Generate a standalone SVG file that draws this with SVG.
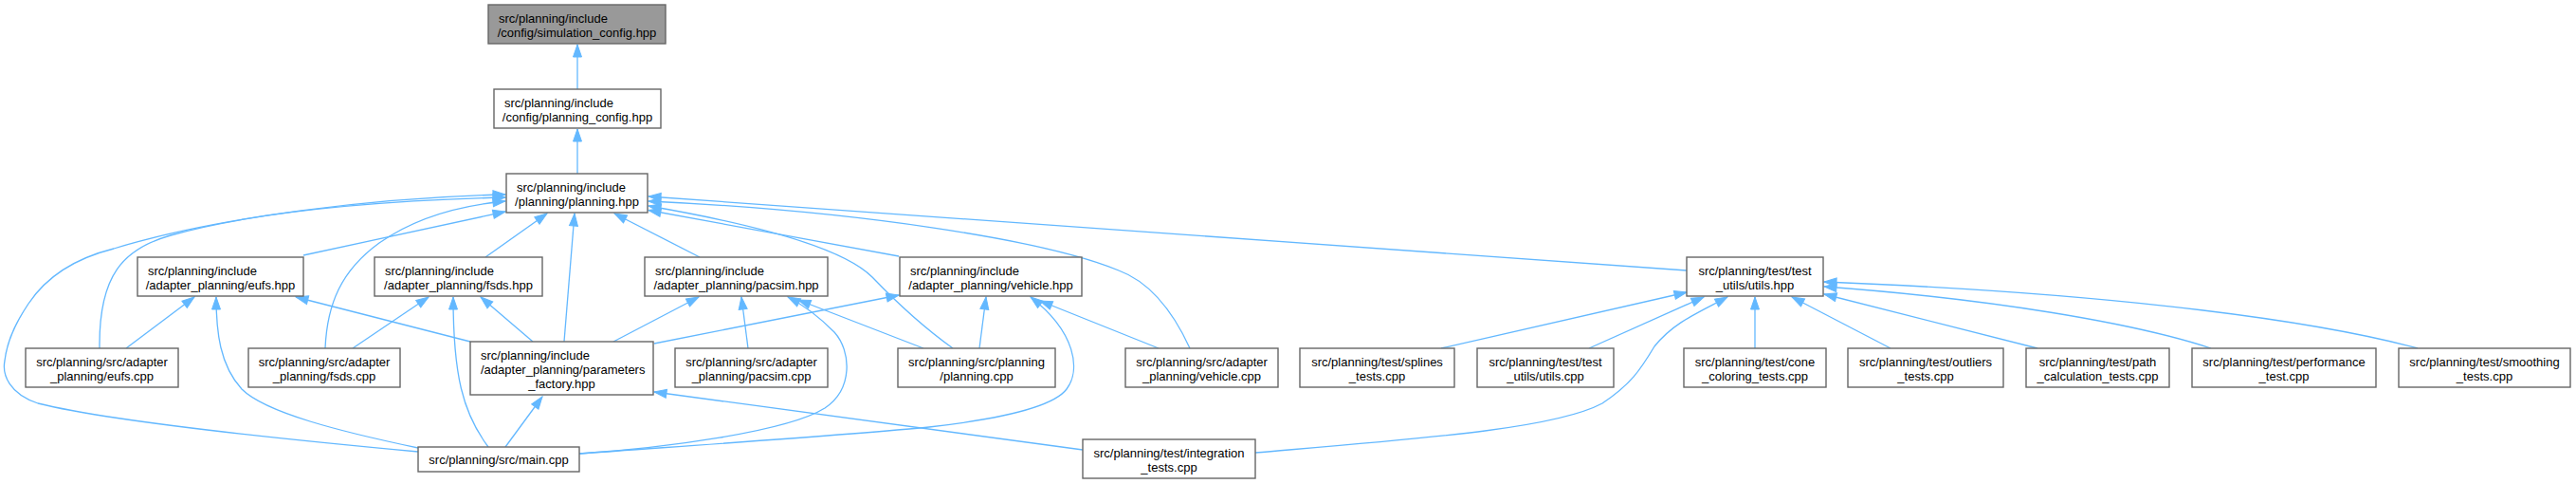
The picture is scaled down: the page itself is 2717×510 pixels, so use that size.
<svg xmlns="http://www.w3.org/2000/svg" width="2717" height="510" viewBox="0 0 2717 510">
<style>
.box{fill:#ffffff;stroke:#666666;stroke-width:1.4}
.root{fill:#999999;stroke:#666666;stroke-width:1.4}
.t{font-family:"Liberation Sans",Arial,sans-serif;font-size:13px;fill:#000000}
.m{text-anchor:middle}
.e{fill:none;stroke:#63b8ff;stroke-width:1.3;marker-end:url(#arr)}
</style>
<defs>
<marker id="arr" markerUnits="userSpaceOnUse" markerWidth="15" markerHeight="11" viewBox="0 0 15 11" refX="14" refY="5.5" orient="auto">
<path d="M1,1 L14,5.5 L1,10 z" fill="#63b8ff" stroke="#63b8ff" stroke-width="1"/>
</marker>
</defs>
<rect width="2717" height="510" fill="#ffffff"/>
<g id="connectors">
<path class="e" d="M609,94 L609,47"/>
<path class="e" d="M609,183 L609,136"/>
<path class="e" d="M320,269 L533,223"/>
<path class="e" d="M512,271 L577,225"/>
<path class="e" d="M738,271 L648,225"/>
<path class="e" d="M948,270 L684,221.5"/>
<path class="e" d="M1779,285 L684,207"/>
<path class="e" d="M105,367 C104,290 130,262 180,248 C280,220 420,211 533,208"/>
<path class="e" d="M343,367 C345,320 360,285 400,256 C440,228 490,216 533,212"/>
<path class="e" d="M595,360 L606,225"/>
<path class="e" d="M441,476 C300,463 120,445 40,425 C10,415 2,395 5,380 C8,355 20,335 30,320 C50,290 80,272 120,262 C230,228 400,208 533,205"/>
<path class="e" d="M1005,367 C970,342 945,318 920,292 C890,262 800,237 684,217"/>
<path class="e" d="M1255,367 C1238,330 1215,298 1180,285 C1100,252 900,222 684,212"/>
<path class="e" d="M133,367 L205,313"/>
<path class="e" d="M441,472 C360,455 280,435 255,410 C232,385 228,350 228,313"/>
<path class="e" d="M496,360 L312,313"/>
<path class="e" d="M372,367 L452,313"/>
<path class="e" d="M515,471 C488,435 478,395 478,313"/>
<path class="e" d="M562,360 L507,313"/>
<path class="e" d="M647,360 L737,313"/>
<path class="e" d="M789,367 L782,313"/>
<path class="e" d="M611,478 C700,472 830,455 870,430 C900,410 898,370 880,350 C862,332 845,320 831,313"/>
<path class="e" d="M974,367 L842,316"/>
<path class="e" d="M690,362 L948,311"/>
<path class="e" d="M1033,367 L1040,313"/>
<path class="e" d="M611,478 C750,468 900,458 980,450 C1050,442 1110,430 1125,410 C1140,390 1135,350 1087,313"/>
<path class="e" d="M1222,367 L1097,317"/>
<path class="e" d="M533,471 L572,418"/>
<path class="e" d="M1142,474 L690,413"/>
<path class="e" d="M1520,367 L1779,308"/>
<path class="e" d="M1676,367 L1797,313"/>
<path class="e" d="M1324,477 C1500,462 1640,452 1690,425 C1720,405 1730,390 1745,365 C1765,340 1790,330 1822,313"/>
<path class="e" d="M1851,367 L1851,313"/>
<path class="e" d="M1994,367 L1890,313"/>
<path class="e" d="M2149,367 L1924,310"/>
<path class="e" d="M2332,367 C2250,340 2100,315 1924,302"/>
<path class="e" d="M2550,367 C2450,340 2250,310 1924,297"/>
</g>
<g id="node-simulation-config">
<rect class="root" x="515" y="5" width="187" height="41"/>
<text class="t" x="526" y="23.5">src/planning/include</text>
<text class="t m" x="608.5" y="38.5">/config/simulation_config.hpp</text>
</g>
<g id="node-planning-config">
<rect class="box" x="521" y="94" width="176" height="41"/>
<text class="t" x="532" y="112.5">src/planning/include</text>
<text class="t m" x="609" y="127.5">/config/planning_config.hpp</text>
</g>
<g id="node-planning-hpp">
<rect class="box" x="534" y="183" width="149" height="41"/>
<text class="t" x="545" y="201.5">src/planning/include</text>
<text class="t m" x="608.5" y="216.5">/planning/planning.hpp</text>
</g>
<g id="node-eufs-hpp">
<rect class="box" x="145" y="271" width="175" height="41"/>
<text class="t" x="156" y="289.5">src/planning/include</text>
<text class="t m" x="232.5" y="304.5">/adapter_planning/eufs.hpp</text>
</g>
<g id="node-fsds-hpp">
<rect class="box" x="395" y="271" width="177" height="41"/>
<text class="t" x="406" y="289.5">src/planning/include</text>
<text class="t m" x="483.5" y="304.5">/adapter_planning/fsds.hpp</text>
</g>
<g id="node-pacsim-hpp">
<rect class="box" x="680" y="271" width="193" height="41"/>
<text class="t" x="691" y="289.5">src/planning/include</text>
<text class="t m" x="776.5" y="304.5">/adapter_planning/pacsim.hpp</text>
</g>
<g id="node-vehicle-hpp">
<rect class="box" x="949" y="271" width="192" height="41"/>
<text class="t" x="960" y="289.5">src/planning/include</text>
<text class="t m" x="1045" y="304.5">/adapter_planning/vehicle.hpp</text>
</g>
<g id="node-utils-hpp">
<rect class="box" x="1779" y="271" width="144" height="41"/>
<text class="t m" x="1851" y="289.5">src/planning/test/test</text>
<text class="t m" x="1851" y="304.5">_utils/utils.hpp</text>
</g>
<g id="node-eufs-cpp">
<rect class="box" x="27" y="367" width="161" height="41"/>
<text class="t m" x="107.5" y="385.5">src/planning/src/adapter</text>
<text class="t m" x="107.5" y="400.5">_planning/eufs.cpp</text>
</g>
<g id="node-fsds-cpp">
<rect class="box" x="262" y="367" width="160" height="41"/>
<text class="t m" x="342" y="385.5">src/planning/src/adapter</text>
<text class="t m" x="342" y="400.5">_planning/fsds.cpp</text>
</g>
<g id="node-parameters-factory">
<rect class="box" x="496" y="360" width="193" height="56"/>
<text class="t" x="507" y="378.5">src/planning/include</text>
<text class="t" x="507" y="393.5">/adapter_planning/parameters</text>
<text class="t m" x="592.5" y="408.5">_factory.hpp</text>
</g>
<g id="node-pacsim-cpp">
<rect class="box" x="712" y="367" width="161" height="41"/>
<text class="t m" x="792.5" y="385.5">src/planning/src/adapter</text>
<text class="t m" x="792.5" y="400.5">_planning/pacsim.cpp</text>
</g>
<g id="node-planning-cpp">
<rect class="box" x="947" y="367" width="166" height="41"/>
<text class="t m" x="1030" y="385.5">src/planning/src/planning</text>
<text class="t m" x="1030" y="400.5">/planning.cpp</text>
</g>
<g id="node-vehicle-cpp">
<rect class="box" x="1187" y="367" width="161" height="41"/>
<text class="t m" x="1267.5" y="385.5">src/planning/src/adapter</text>
<text class="t m" x="1267.5" y="400.5">_planning/vehicle.cpp</text>
</g>
<g id="node-splines-tests">
<rect class="box" x="1371" y="367" width="163" height="41"/>
<text class="t m" x="1452.5" y="385.5">src/planning/test/splines</text>
<text class="t m" x="1452.5" y="400.5">_tests.cpp</text>
</g>
<g id="node-test-utils-cpp">
<rect class="box" x="1558" y="367" width="144" height="41"/>
<text class="t m" x="1630" y="385.5">src/planning/test/test</text>
<text class="t m" x="1630" y="400.5">_utils/utils.cpp</text>
</g>
<g id="node-cone-coloring">
<rect class="box" x="1776" y="367" width="150" height="41"/>
<text class="t m" x="1851" y="385.5">src/planning/test/cone</text>
<text class="t m" x="1851" y="400.5">_coloring_tests.cpp</text>
</g>
<g id="node-outliers">
<rect class="box" x="1949" y="367" width="164" height="41"/>
<text class="t m" x="2031" y="385.5">src/planning/test/outliers</text>
<text class="t m" x="2031" y="400.5">_tests.cpp</text>
</g>
<g id="node-path-calculation">
<rect class="box" x="2137" y="367" width="151" height="41"/>
<text class="t m" x="2212.5" y="385.5">src/planning/test/path</text>
<text class="t m" x="2212.5" y="400.5">_calculation_tests.cpp</text>
</g>
<g id="node-performance">
<rect class="box" x="2312" y="367" width="194" height="41"/>
<text class="t m" x="2409" y="385.5">src/planning/test/performance</text>
<text class="t m" x="2409" y="400.5">_test.cpp</text>
</g>
<g id="node-smoothing">
<rect class="box" x="2530" y="367" width="181" height="41"/>
<text class="t m" x="2620.5" y="385.5">src/planning/test/smoothing</text>
<text class="t m" x="2620.5" y="400.5">_tests.cpp</text>
</g>
<g id="node-main-cpp">
<rect class="box" x="441" y="471" width="170" height="26"/>
<text class="t m" x="526" y="489">src/planning/src/main.cpp</text>
</g>
<g id="node-integration-tests">
<rect class="box" x="1142" y="463" width="182" height="41"/>
<text class="t m" x="1233" y="481.5">src/planning/test/integration</text>
<text class="t m" x="1233" y="496.5">_tests.cpp</text>
</g>
</svg>
